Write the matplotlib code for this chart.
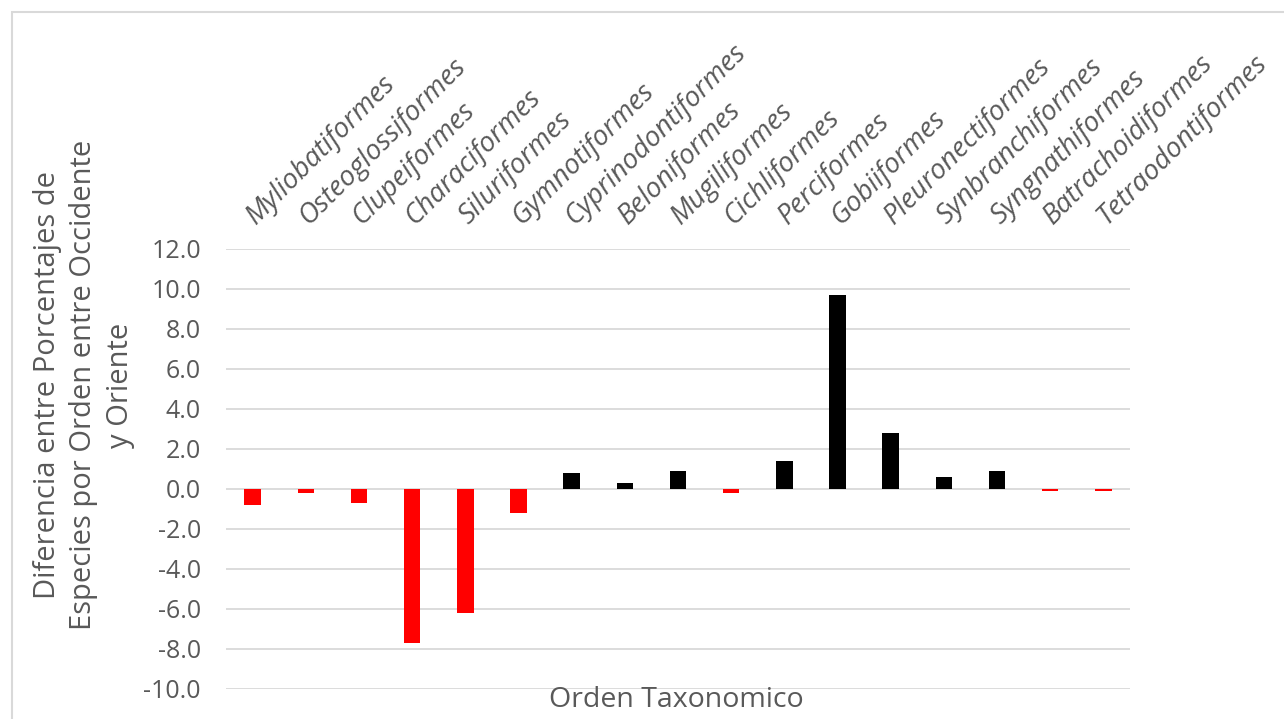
import numpy as np
import matplotlib.pyplot as plt
from matplotlib.patches import Rectangle
import matplotlib.transforms as mtransforms

plt.rcParams['font.family'] = ['Open Sans', 'DejaVu Sans']

ordenes = ["Myliobatiformes", "Osteoglossiformes", "Clupeiformes", "Characiformes",
           "Siluriformes", "Gymnotiformes", "Cyprinodontiformes", "Beloniformes",
           "Mugiliformes", "Cichliformes", "Perciformes", "Gobiiformes",
           "Pleuronectiformes", "Synbranchiformes", "Syngnathiformes",
           "Batrachoidiformes", "Tetraodontiformes"]
diferencia = [-0.8, -0.2, -0.7, -7.7, -6.2, -1.2, 0.8, 0.3, 0.9, -0.2,
              1.4, 9.7, 2.8, 0.6, 0.9, -0.1, -0.1]

gris = "#595959"
colores = ["red" if v < 0 else "black" for v in diferencia]

fig = plt.figure(figsize=(12.84, 7.19), dpi=100)
fig.patches.append(Rectangle((12/1284, -0.1), 1.2, 1 - 12/719 + 0.1,
                             transform=fig.transFigure, fill=False,
                             edgecolor="#d9d9d9", linewidth=1.5))

ax = fig.add_axes([226/1284, 1 - 689/719, 904/1284, 440/719])
x = np.arange(len(ordenes))
ax.bar(x, diferencia, width=0.31, color=colores, zorder=3)

ax.set_xlim(-0.5, len(ordenes) - 0.5)
ax.set_ylim(-10, 12)
ax.set_yticks(np.arange(-10, 12.1, 2))
ax.set_yticklabels([f"{v:.1f}" for v in np.arange(-10, 12.1, 2)],
                   fontsize=18, color=gris)
ax.tick_params(axis="y", length=0, pad=18)
ax.set_xticks([])
ax.grid(axis="y", color="#d9d9d9", linewidth=1.3, zorder=0)
for s in ax.spines.values():
    s.set_visible(False)

# nombres de los ordenes, inclinados sobre el area del grafico
offset = mtransforms.ScaledTranslation(8/100, 19/100, fig.dpi_scale_trans)
trans = mtransforms.blended_transform_factory(ax.transData, ax.transAxes) + offset
for i, nombre in enumerate(ordenes):
    ax.text(i, 1.0, nombre, transform=trans, rotation=45, rotation_mode="anchor",
            ha="left", va="bottom", fontsize=20, style="italic", color=gris)

fig.text(676/1284, 1 - 700/719, "Orden Taxonomico", ha="center", va="center",
         fontsize=20.5, color=gris)
fig.text(84/1284, 1 - 385/719,
         "Diferencia entre Porcentajes de\nEspecies por Orden entre Occidente\ny Oriente",
         rotation=90, ha="center", va="center", ma="center", fontsize=21,
         color=gris, linespacing=1.35)

fig.savefig("out.png", dpi=100)
